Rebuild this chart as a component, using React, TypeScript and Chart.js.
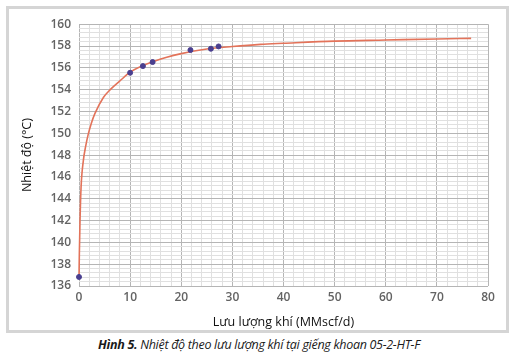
import React, { useEffect, useRef } from "react";
import { Chart, registerables } from "chart.js";

Chart.register(...registerables);

const measuredFlow = [0, 10, 12.5, 14.4, 21.8, 25.8, 27.3];
const measuredTemp = [136.83, 155.55, 156.16, 156.53, 157.63, 157.75, 157.96];

const trendFlow = [0, 0.07, 0.2, 0.4, 0.85, 1.3, 1.8, 2.4, 3.1, 4.8, 6.1, 8, 10, 15, 20, 25, 30, 35.5, 40, 50, 60, 70, 76.7];
const trendTemp = [136.8, 139.0, 142.0, 145.0, 147.5, 148.8, 149.9, 150.9, 151.8, 153.3, 154.0, 154.8, 155.6, 156.65, 157.3, 157.72, 157.95, 158.15, 158.25, 158.45, 158.55, 158.65, 158.7];

const xMin = 0;
const xMax = 80;
const xMajor = 10;
const xMinor = 2;
const yMin = 136;
const yMax = 160;
const yMajor = 2;
const yMinor = 0.4;

const xTitle = "Lưu lượng khí (MMscf/d)";
const yTitle = "Nhiệt độ (°C)";
const captionBold = "Hình 5.";
const captionRest = " Nhiệt độ theo lưu lượng khí tại giếng khoan 05-2-HT-F";

const isMultiple = (v: number, m: number) => {
  const r = v / m;
  return Math.abs(r - Math.round(r)) < 1e-6;
};

export default function App() {
  const ref = useRef<HTMLCanvasElement | null>(null);
  useEffect(() => {
    if (!ref.current) return;
    const tickFont = { family: "'Open Sans', sans-serif", size: 12, weight: "600" };
    const titleFont = { family: "'Open Sans', sans-serif", size: 12.5 };
    const chart = new Chart(ref.current, {
      type: "scatter",
      data: {
        datasets: [
          {
            label: "trend",
            data: trendFlow.map((x, i) => ({ x, y: trendTemp[i] })),
            showLine: true,
            borderColor: "#e3735a",
            borderWidth: 1.6,
            pointRadius: 0,
            cubicInterpolationMode: "monotone",
            clip: false,
            order: 2,
          },
          {
            label: "measured",
            data: measuredFlow.map((x, i) => ({ x, y: measuredTemp[i] })),
            showLine: false,
            backgroundColor: "#4a3f8f",
            borderColor: "#4a3f8f",
            pointRadius: 2.5,
            clip: false,
            order: 1,
          },
        ],
      },
      options: {
        animation: false,
        responsive: true,
        maintainAspectRatio: false,
        layout: { padding: { left: 11, right: 18, top: 14, bottom: 0 } },
        plugins: { legend: { display: false }, tooltip: { enabled: false } },
        scales: {
          x: {
            type: "linear",
            min: xMin,
            max: xMax,
            afterFit: (s: any) => {
              s.height = 44;
            },
            ticks: {
              stepSize: xMinor,
              autoSkip: false,
              maxRotation: 0,
              color: "#636363",
              font: tickFont,
              padding: 4,
              callback: (v: any) => (isMultiple(Number(v), xMajor) ? String(Math.round(Number(v))) : ""),
            },
            grid: {
              color: (c: any) => (isMultiple(c.tick.value, xMajor) ? "#b5b5b5" : "#e0e0e0"),
              drawTicks: false,
              lineWidth: 1,
            },
            border: { display: false },
            title: {
              display: true,
              text: xTitle,
              color: "#111",
              font: titleFont,
              padding: { top: 0, bottom: 0 },
            },
          },
          y: {
            type: "linear",
            min: yMin,
            max: yMax,
            afterFit: (s: any) => {
              s.width = 59;
            },
            ticks: {
              stepSize: yMinor,
              autoSkip: false,
              color: "#636363",
              font: tickFont,
              padding: 8,
              callback: (v: any) => (isMultiple(Number(v), yMajor) ? String(Math.round(Number(v))) : ""),
            },
            grid: {
              color: (c: any) => (isMultiple(c.tick.value, yMajor) ? "#b5b5b5" : "#e0e0e0"),
              drawTicks: false,
              lineWidth: 1,
            },
            border: { display: false },
            title: {
              display: true,
              text: yTitle,
              color: "#111",
              font: titleFont,
              padding: { top: 0, bottom: 0 },
            },
          },
        },
      },
    } as any);
    return () => chart.destroy();
  }, []);

  return (
    <div style={{ position: "absolute", left: 0, top: 0, width: 518, height: 360, background: "#fff" }}>
      <div
        style={{
          position: "absolute",
          left: 6,
          top: 6,
          width: 503,
          height: 327,
          border: "3px solid #d5d5d5",
          boxSizing: "border-box",
        }}
      >
        <div style={{ position: "absolute", left: 0, top: 0, width: 497, height: 321 }}>
          <canvas ref={ref} />
        </div>
      </div>
      <div
        style={{
          position: "absolute",
          left: 0,
          top: 336,
          width: 518,
          textAlign: "center",
          fontFamily: "'Liberation Sans Narrow', 'Open Sans', sans-serif",
          fontStyle: "italic",
          fontSize: 12.5,
          color: "#1a1a1a",
          letterSpacing: -0.3,
        }}
      >
        <b>{captionBold}</b>
        {captionRest}
      </div>
    </div>
  );
}
